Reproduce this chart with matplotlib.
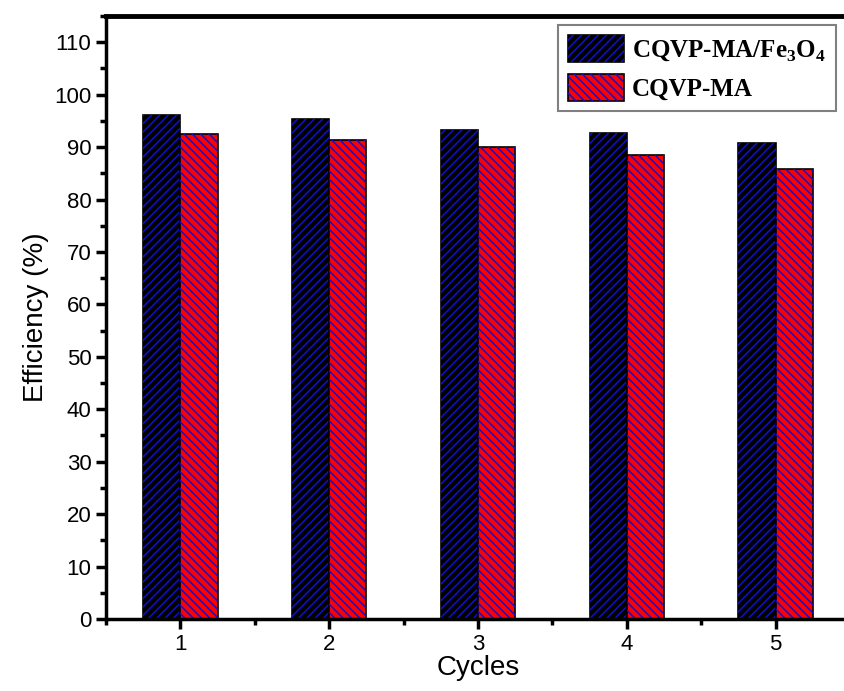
import matplotlib.pyplot as plt
import numpy as np
from matplotlib.patches import Patch
from matplotlib.legend_handler import HandlerTuple
from matplotlib.ticker import MultipleLocator

plt.rcParams['font.family'] = ['Liberation Sans', 'DejaVu Sans']
plt.rcParams['hatch.linewidth'] = 1.1

cycles = [1, 2, 3, 4, 5]
eff_composite = [96.1, 95.3, 93.3, 92.7, 90.8]
eff_plain = [92.5, 91.3, 90.1, 88.5, 85.9]
labels = ['CQVP-MA/Fe$_\\mathregular{3}$O$_\\mathregular{4}$', 'CQVP-MA']

fig = plt.figure(figsize=(8.44, 6.91), dpi=100)
ax = fig.add_axes([0.1256, 0.1042, 0.8815, 0.8726])

x = np.array(cycles)
w = 0.25
hatch_blue = '#1010d0'

# solid bars first, then blue hatching on top
ax.bar(x - w / 2, eff_composite, w, color='black', edgecolor='black', linewidth=1.2)
ax.bar(x - w / 2, eff_composite, w, color='none', edgecolor=hatch_blue, hatch='////', linewidth=0)
ax.bar(x + w / 2, eff_plain, w, color='#ff0000', edgecolor='black', linewidth=1.2)
ax.bar(x + w / 2, eff_plain, w, color='none', edgecolor=hatch_blue, hatch='\\\\\\\\', linewidth=0)

ax.set_xlim(0.5, 5.5)
ax.set_ylim(0, 115)
ax.set_xticks(cycles)
ax.xaxis.set_minor_locator(MultipleLocator(0.5))
ax.yaxis.set_minor_locator(MultipleLocator(5))
ax.set_yticks(np.arange(0, 111, 10))

for s in ax.spines.values():
    s.set_linewidth(2.5)
ax.spines['top'].set_linewidth(3.5)

ax.tick_params(which='major', direction='out', length=7, width=2.5, labelsize=16)
ax.tick_params(which='minor', direction='out', length=4, width=2.5)

ax.set_xlabel('Cycles', fontsize=20, labelpad=0)
ax.set_ylabel('Efficiency (%)', fontsize=20, labelpad=4)

handles = [
    (Patch(facecolor='black', edgecolor='black', linewidth=1.2),
     Patch(facecolor='none', edgecolor=hatch_blue, hatch='////', linewidth=0)),
    (Patch(facecolor='#ff0000', edgecolor='black', linewidth=1.2),
     Patch(facecolor='none', edgecolor=hatch_blue, hatch='\\\\\\\\', linewidth=0)),
]
leg = ax.legend(handles, labels, handler_map={tuple: HandlerTuple(ndivide=1)},
                loc='upper left', bbox_to_anchor=(0.6075, 0.985), borderaxespad=0,
                prop={'family': 'Liberation Serif', 'weight': 'bold', 'size': 18},
                fancybox=False, edgecolor='gray', framealpha=1,
                handlelength=2.25, handleheight=1.25, borderpad=0.4,
                labelspacing=0.45, handletextpad=0.3)
leg.get_frame().set_linewidth(1.5)

fig.savefig('out.png', dpi=100)
